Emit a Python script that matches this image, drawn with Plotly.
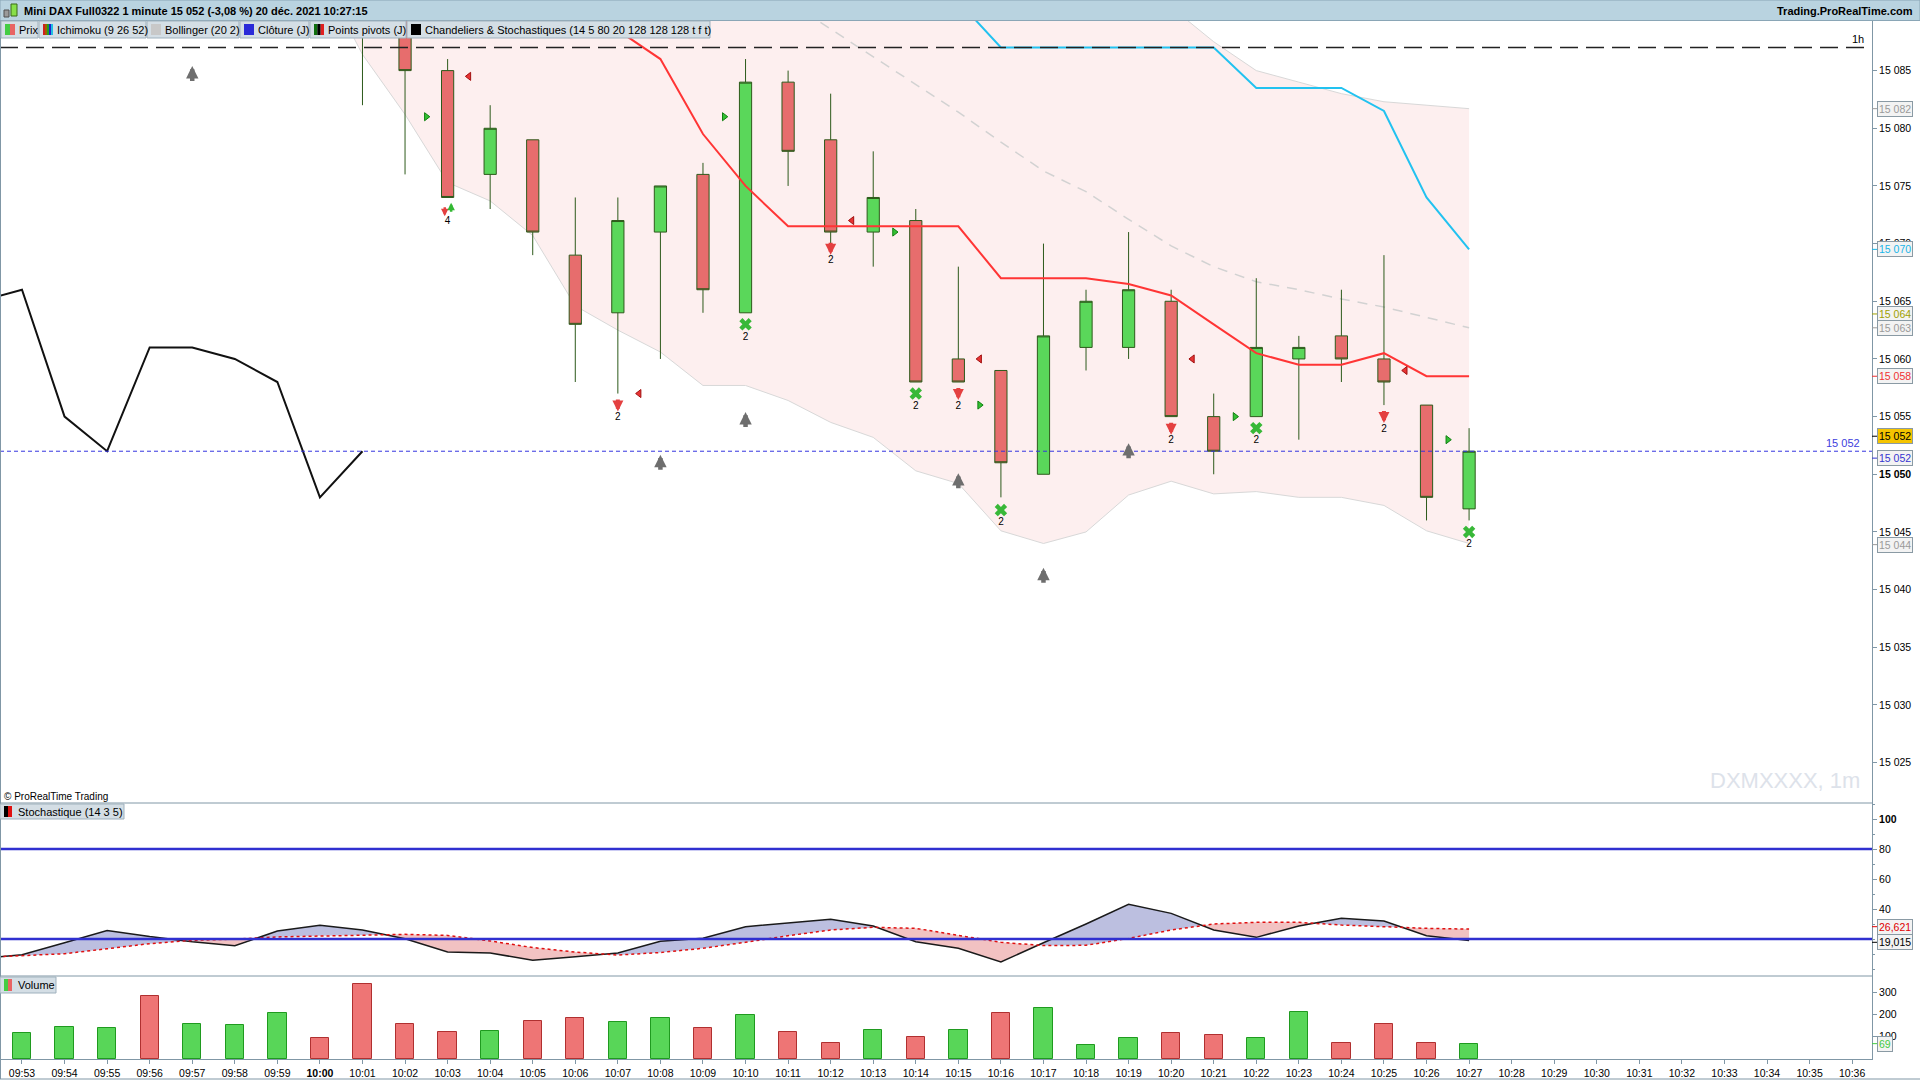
import numpy as np
import pandas as pd
import plotly.graph_objects as go

DAY = "2021-12-20 "
FONT = "Liberation Sans, Arial, sans-serif"
AXIS = "#8097a6"

# ---------------- data ----------------
tick_times = ["09:53", "09:54", "09:55", "09:56", "09:57", "09:58", "09:59",
              "10:00", "10:01", "10:02", "10:03", "10:04", "10:05", "10:06",
              "10:07", "10:08", "10:09", "10:10", "10:11", "10:12", "10:13",
              "10:14", "10:15", "10:16", "10:17", "10:18", "10:19", "10:20",
              "10:21", "10:22", "10:23", "10:24", "10:25", "10:26", "10:27",
              "10:28", "10:29", "10:30", "10:31", "10:32", "10:33", "10:34",
              "10:35", "10:36"]

candle_times = ["10:01", "10:02", "10:03", "10:04", "10:05", "10:06", "10:07",
                "10:08", "10:09", "10:10", "10:11", "10:12", "10:13", "10:14",
                "10:15", "10:16", "10:17", "10:18", "10:19", "10:20", "10:21",
                "10:22", "10:23", "10:24", "10:25", "10:26", "10:27"]
opens = [15094, 15090, 15085, 15076, 15079, 15069, 15064, 15071, 15076, 15064,
         15084, 15079, 15071, 15072, 15060, 15059, 15050, 15061, 15061, 15065,
         15055, 15055, 15060, 15062, 15060, 15056, 15047]
highs = [15097, 15091, 15086, 15082, 15079, 15074, 15074, 15075, 15077, 15086,
         15085, 15083, 15078, 15073, 15068, 15059, 15070, 15066, 15071, 15066,
         15057, 15067, 15062, 15066, 15069, 15056, 15054]
lows = [15082, 15076, 15074, 15073, 15069, 15058, 15057, 15060, 15064, 15064,
        15075, 15070, 15068, 15058, 15058, 15048, 15050, 15059, 15060, 15055,
        15050, 15055, 15053, 15058, 15056, 15046, 15046]
closes = [15090, 15085, 15074, 15080, 15071, 15063, 15072, 15075, 15066, 15084,
          15078, 15071, 15074, 15058, 15058, 15051, 15062, 15065, 15066, 15055,
          15052, 15061, 15061, 15060, 15058, 15048, 15052]

# ichimoku
tenkan_times = ["10:06", "10:07", "10:08", "10:09", "10:10", "10:11", "10:12",
                "10:13", "10:14", "10:15", "10:16", "10:17", "10:18", "10:19",
                "10:20", "10:21", "10:22", "10:23", "10:24", "10:25", "10:26",
                "10:27"]
tenkan = [15091, 15088.5, 15086, 15079.5, 15075, 15071.5, 15071.5, 15071.5,
          15071.5, 15071.5, 15067, 15067, 15067, 15066.5, 15065.5, 15063,
          15060.5, 15059.5, 15059.5, 15060.5, 15058.5, 15058.5]
kijun_times = ["10:15", "10:16", "10:17", "10:18", "10:19", "10:20", "10:21",
               "10:22", "10:23", "10:24", "10:25", "10:26", "10:27"]
kijun = [15091, 15087, 15087, 15087, 15087, 15087, 15087, 15083.5, 15083.5,
         15083.5, 15081.5, 15074, 15069.5]

# bollinger (20 2)
bb_times = ["10:00", "10:01", "10:02", "10:03", "10:04", "10:05", "10:06",
            "10:07", "10:08", "10:09", "10:10", "10:11", "10:12", "10:13",
            "10:14", "10:15", "10:16", "10:17", "10:18", "10:19", "10:20",
            "10:21", "10:22", "10:23", "10:24", "10:25", "10:26", "10:27"]
bb_upper = [15142, 15140, 15138, 15136, 15134, 15132, 15131, 15130, 15129.5,
            15129.5, 15129, 15126, 15123, 15119, 15117, 15114, 15112, 15109,
            15104, 15096, 15090.5, 15087.5, 15085, 15084, 15083, 15082.3,
            15082, 15081.7]
bb_lower = [15093.5, 15086.4, 15081.2, 15075.3, 15073.7, 15070.7, 15064.6,
            15062.5, 15060.6, 15057.7, 15057.7, 15056.4, 15054.5, 15053.2,
            15050.3, 15049.2, 15045.1, 15044.0, 15045.0, 15048.2, 15049.4,
            15048.3, 15048.5, 15048.0, 15048.0, 15047.3, 15045.1, 15044.0]
bb_mid_times = ["10:10", "10:11", "10:12", "10:13", "10:14", "10:15", "10:16",
                "10:17", "10:18", "10:19", "10:20", "10:21", "10:22", "10:23",
                "10:24", "10:25", "10:26", "10:27"]
bb_mid = [15093.5, 15091, 15088.6, 15086.2, 15083.8, 15081.4, 15078.8,
          15076.3, 15074.5, 15072.1, 15069.8, 15068, 15066.7, 15066, 15065.2,
          15064.5, 15063.6, 15062.7]

hour_level = 15087      # "1h" line
daily_close = 15052     # Clôture (J)

# chandeliers & stochastiques signals
up_arrow_times = ["09:57", "10:08", "10:10", "10:15", "10:17", "10:19"]
up_arrow_vals = [15084.7, 15051, 15054.7, 15049.4, 15041.2, 15052]
down_arrow_times = ["10:07", "10:12", "10:15", "10:20", "10:25"]
down_arrow_vals = [15056, 15069.6, 15057, 15054, 15055]
down_arrow_count_vals = [15054.9, 15068.5, 15055.9, 15052.9, 15053.9]
cross_times = ["10:10", "10:14", "10:16", "10:22", "10:27"]
cross_vals = [15063, 15057, 15046.9, 15054, 15045]
cross_count_vals = [15061.9, 15055.9, 15045.8, 15052.9, 15043.9]
pair_times = ["10:02:56", "10:03:05"]
pair_vals = [15072.8, 15073.1]
pair_count = ("10:03", 15071.9, "4")
left_tri_times = ["10:03:30", "10:07:30", "10:12:30", "10:15:30", "10:20:30", "10:25:30"]
left_tri_vals = [15084.5, 15057, 15072, 15060, 15060, 15059]
right_tri_times = ["10:02:30", "10:09:30", "10:13:30", "10:15:30", "10:21:30", "10:26:30"]
right_tri_vals = [15081, 15081, 15071, 15056, 15055, 15053]

# stochastique (14 3 5)
stoch_times = ["09:52", "09:53", "09:54", "09:55", "09:56", "09:57", "09:58",
               "09:59", "10:00", "10:01", "10:02", "10:03", "10:04", "10:05",
               "10:06", "10:07", "10:08", "10:09", "10:10", "10:11", "10:12",
               "10:13", "10:14", "10:15", "10:16", "10:17", "10:18", "10:19",
               "10:20", "10:21", "10:22", "10:23", "10:24", "10:25", "10:26",
               "10:27"]
stoch_k = [7.0, 9.5, 17.5, 25.7, 21.6, 18.2, 15.5, 25.3, 29.1, 26.0, 20.2, 11.3,
           10.6, 5.9, 8.2, 10.7, 18.5, 20.5, 28.2, 30.7, 33.1, 28.7, 18.2, 13.8,
           4.7, 17.5, 30.0, 43.1, 37.1, 26.0, 21.1, 28.7, 33.8, 32.0, 22.2, 19.0]
stoch_d = [7.6, 8.8, 10.2, 13.5, 16.9, 19.1, 19.9, 21.4, 22.2, 22.5, 23.1, 22.4,
           18.7, 14.3, 11.3, 9.3, 11.0, 13.8, 17.8, 22.2, 26.0, 27.8, 27.1, 22.7,
           17.8, 15.6, 15.8, 20.4, 26.0, 30.0, 31.1, 31.1, 29.3, 28.2, 27.1, 26.6]

# volume
vol_times = tick_times[:35]
volume = [118, 145, 141, 284, 159, 154, 208, 96, 338, 159, 123, 127, 172, 186,
          168, 186, 139, 200, 123, 74, 129, 101, 129, 205, 227, 63, 96, 117,
          107, 96, 211, 74, 156, 74, 69]
vol_up = [1, 1, 1, 0, 1, 1, 1, 0, 0, 0, 0, 1, 0, 0, 1, 1, 0, 1, 0, 0, 1, 0, 1,
          0, 1, 1, 1, 0, 0, 1, 1, 0, 0, 0, 1]

# right axis value tags
price_tag_vals = [15081.7, 15069.5, 15063.9, 15062.7, 15058.5, 15053.3, 15051.4, 15043.9]
price_tag_text = ["15 082", "15 070", "15 064", "15 063", "15 058", "15 052", "15 052", "15 044"]
price_tag_color = ["#9a9a9a", "#19b5e8", "#a0a000", "#9a9a9a", "#f03030", "#000000", "#3535d0", "#9a9a9a"]
price_tag_bg = ["#f3f3f3", "#f3f3f3", "#f3f3f3", "#f3f3f3", "#f3f3f3", "#f5c400", "#f3f3f3", "#f3f3f3"]
stoch_tag_vals = [28.2, 17.8]
stoch_tag_text = ["26,621", "19,015"]
stoch_tag_color = ["#e00000", "#000000"]

price_ticks = [15025, 15030, 15035, 15040, 15045, 15050, 15055, 15060, 15065,
               15070, 15075, 15080, 15085]
price_tick_text = ["15 025", "15 030", "15 035", "15 040", "15 045", "<b>15 050</b>",
                   "15 055", "15 060", "15 065", "15 070", "15 075", "15 080", "15 085"]


def ts(lst):
    return [DAY + s for s in lst]


# ---------------- geometry helpers (pixel -> paper) ----------------
PLOT_W, TOP, BOTTOM = 1872, 21, 1059


def px(x):
    return x / PLOT_W


def py(y):
    return (BOTTOM - y) / (BOTTOM - TOP)


fig = go.Figure()

# bollinger band (base subplot, below candles)
fig.add_trace(go.Scatter(x=ts(bb_times), y=bb_upper, mode="lines",
                         line=dict(color="#d8d8d8", width=1), hoverinfo="skip"))
fig.add_trace(go.Scatter(x=ts(bb_times), y=bb_lower, mode="lines",
                         line=dict(color="#d8d8d8", width=1), fill="tonexty",
                         fillcolor="#fdefef", hoverinfo="skip"))
fig.add_trace(go.Scatter(x=ts(bb_mid_times), y=bb_mid, mode="lines",
                         line=dict(color="#d2d2d2", width=1.5, dash="10px,8px"),
                         hoverinfo="skip"))

# candles on overlay axis
fig.add_trace(go.Candlestick(
    x=ts(candle_times), open=opens, high=highs, low=lows, close=closes,
    yaxis="y4", whiskerwidth=0,
    increasing=dict(fillcolor="#5ad75a", line=dict(color="#2d5a1b", width=1)),
    decreasing=dict(fillcolor="#e76d6d", line=dict(color="#2d5a1b", width=1)),
))

fig.add_trace(go.Scatter(x=ts(tenkan_times), y=tenkan, mode="lines", yaxis="y4",
                         line=dict(color="#ff3535", width=2)))
fig.add_trace(go.Scatter(x=ts(kijun_times), y=kijun, mode="lines", yaxis="y4",
                         line=dict(color="#22c2f0", width=2)))

# chikou span: closes shifted 26 periods back
close_s = pd.Series(closes, index=pd.to_datetime(ts(candle_times)))
chikou = close_s.loc[DAY + "10:18":]
chikou.index = chikou.index - pd.Timedelta(minutes=26)
fig.add_trace(go.Scatter(x=chikou.index, y=chikou.values, mode="lines", yaxis="y4",
                         line=dict(color="#111111", width=2)))

# signals
fig.add_trace(go.Scatter(x=ts(left_tri_times), y=left_tri_vals, mode="markers", yaxis="y4",
                         marker=dict(symbol="triangle-left", size=7, color="#e83333",
                                     line=dict(color="#a01010", width=1))))
fig.add_trace(go.Scatter(x=ts(right_tri_times), y=right_tri_vals, mode="markers", yaxis="y4",
                         marker=dict(symbol="triangle-right", size=7, color="#33c033",
                                     line=dict(color="#108010", width=1))))
fig.add_trace(go.Scatter(x=ts(cross_times), y=cross_vals, mode="markers", yaxis="y4",
                         marker=dict(symbol="x", size=11, color="#38b838", line=dict(width=0))))
fig.add_trace(go.Scatter(
    x=ts(down_arrow_times + cross_times + [pair_count[0]]),
    y=down_arrow_count_vals + cross_count_vals + [pair_count[1]],
    mode="text", yaxis="y4",
    text=["2"] * (len(down_arrow_times) + len(cross_times)) + [pair_count[2]],
    textfont=dict(family=FONT, size=10, color="black")))

# stochastic with two-colour fill between %K and %D
st = pd.to_datetime(ts(stoch_times))
xs, ks, ds = [], [], []
for j in range(len(stoch_k)):
    if j > 0:
        a0 = stoch_k[j - 1] - stoch_d[j - 1]
        a1 = stoch_k[j] - stoch_d[j]
        if a0 * a1 < 0:
            f = a0 / (a0 - a1)
            xs.append(st[j - 1] + (st[j] - st[j - 1]) * f)
            v = stoch_k[j - 1] + (stoch_k[j] - stoch_k[j - 1]) * f
            ks.append(v)
            ds.append(v)
    xs.append(st[j])
    ks.append(stoch_k[j])
    ds.append(stoch_d[j])
hi = np.maximum(ks, ds)
lo = np.minimum(ks, ds)
for bound, col in ((hi, "#bcbfe0"), (lo, "#f2c2c2")):
    fig.add_trace(go.Scatter(x=xs, y=ds, mode="lines", yaxis="y2",
                             line=dict(width=0), hoverinfo="skip"))
    fig.add_trace(go.Scatter(x=xs, y=bound, mode="lines", yaxis="y2", fill="tonexty",
                             fillcolor=col, line=dict(width=0), hoverinfo="skip"))
fig.add_trace(go.Scatter(x=st, y=stoch_k, mode="lines", yaxis="y2",
                         line=dict(color="#1a1a1a", width=1.5)))
fig.add_trace(go.Scatter(x=st, y=stoch_d, mode="lines", yaxis="y2",
                         line=dict(color="#e01010", width=1.5, dash="dot")))

# volume
fig.add_trace(go.Bar(
    x=ts(vol_times), y=volume, yaxis="y3", width=25800,
    marker=dict(color=["#58d658" if u else "#ee7575" for u in vol_up],
                line=dict(color=["#1f9a1f" if u else "#b03030" for u in vol_up], width=1)),
))

# ---------------- shapes ----------------
shapes = [
    dict(type="line", xref="paper", yref="y", x0=0, x1=1, y0=hour_level, y1=hour_level,
         line=dict(color="#222222", width=1.5, dash="18px,8px"), layer="above"),
    dict(type="line", xref="paper", yref="y", x0=0, x1=1, y0=daily_close, y1=daily_close,
         line=dict(color="#3535e0", width=1, dash="4px,3px"), layer="above"),
    dict(type="line", xref="paper", yref="y2", x0=0, x1=1, y0=80, y1=80,
         line=dict(color="#3030d0", width=2.5)),
    dict(type="line", xref="paper", yref="y2", x0=0, x1=1, y0=20, y1=20,
         line=dict(color="#3030d0", width=2.5), layer="above"),
]


def rect(x0, y0, x1, y1, fill, line=None):
    shapes.append(dict(type="rect", xref="paper", yref="paper",
                       x0=px(x0), x1=px(x1), y0=py(y1), y1=py(y0),
                       fillcolor=fill, layer="above",
                       line=dict(color=line if line else fill, width=1 if line else 0)))


def hline(y, x0=0, x1=1920, color=AXIS):
    shapes.append(dict(type="line", xref="paper", yref="paper", x0=px(x0), x1=px(x1),
                       y0=py(y), y1=py(y), line=dict(color=color, width=1), layer="above"))


hline(803, 0, 1872)
hline(976, 0, 1872)
hline(1079, 0, 1920)
shapes.append(dict(type="line", xref="paper", yref="paper", x0=px(0.5), x1=px(0.5),
                   y0=py(21), y1=py(1079), line=dict(color=AXIS, width=1)))

# title bar
rect(0, 0, 1920, 20.5, "#b9d3e0", "#8aa6b6")
rect(4, 10, 9, 17, "#9a9a9a", "#505050")
rect(11, 4, 17, 16, "#88e04a", "#3a6a1a")

annotations = []


def label(x, y, text, size=11, color="black", xanchor="left", font=FONT, **kw):
    annotations.append(dict(xref="paper", yref="paper", x=px(x), y=py(y), text=text,
                            showarrow=False, xanchor=xanchor, yanchor="middle",
                            font=dict(family=font, size=size, color=color), **kw))


def arrow(t, v, color, up, width, scale, length):
    # arrow centred on (t, v); tip and tail offsets are in pixels
    sign = 1 if up else -1
    annotations.append(dict(xref="x", yref="y4", x=DAY + t, y=v, text=" ",
                            font=dict(size=1), borderpad=0,
                            showarrow=True, arrowhead=2, arrowsize=scale,
                            arrowwidth=width, arrowcolor=color,
                            ax=0, ay=sign * length, yshift=sign * length / 2,
                            standoff=0, startstandoff=0))


for t, v in zip(up_arrow_times, up_arrow_vals):
    arrow(t, v, "#6e6e6e", True, 4.5, 0.55, 16)
for t, v in zip(down_arrow_times, down_arrow_vals):
    arrow(t, v, "#e44040", False, 4, 0.55, 13)
arrow(pair_times[0], pair_vals[0], "#e44040", False, 2.5, 0.6, 10)
arrow(pair_times[1], pair_vals[1], "#33b833", True, 2.5, 0.6, 10)

label(22, 10.5, "<b>Mini DAX Full0322 1 minute 15 052 (-3,08 %) 20 déc. 2021 10:27:15</b>", 11)
label(1915, 10.5, "<b>Trading.ProRealTime.com</b>", 11, xanchor="right")

# indicator legend bar
legend_items = [
    ("Prix", 1, 38, ["#44cc44", "#e86464"]),
    ("Ichimoku (9 26 52)", 39, 146, ["#d02020", "#a06000", "#20a020", "#2020d0", "#20c0e0"]),
    ("Bollinger (20 2)", 147, 239, ["#c8c8c8"]),
    ("Clôture (J)", 240, 309, ["#2a2ad8"]),
    ("Points pivots (J)", 310, 406, ["#107010", "#000000", "#e02020"]),
    ("Chandeliers & Stochastiques (14 5 80 20 128 128 128 t f t)", 407, 710, ["#000000"]),
]
for name, x0, x1, cols in legend_items:
    rect(x0, 21, x1, 38, "#d4dee5", "#9fb1bd")
    w = 10 / len(cols)
    for n, c in enumerate(cols):
        rect(x0 + 4 + n * w, 24, x0 + 4 + (n + 1) * w, 35, c)
    label(x0 + 16, 29.5, name, 11)

rect(0, 804, 124, 819, "#d4dee5", "#9fb1bd")
rect(4, 806, 8, 817, "#000000")
rect(8, 806, 12, 817, "#e01010")
label(16, 811.5, "Stochastique (14 3 5)", 11)
rect(0, 977, 56, 993, "#d4dee5", "#9fb1bd")
rect(4, 979, 8, 991, "#44cc44")
rect(8, 979, 12, 991, "#e86464")
label(16, 985, "Volume", 11)

label(2, 796, "© ProRealTime Trading", 10)
label(1862, 780, "DXMXXXX, 1m", 22, "#dde2ea", xanchor="right")
label(1866, 39, "1h", 11, xanchor="right")
annotations.append(dict(xref="paper", yref="y", x=px(1862), y=daily_close, text="15 052",
                        showarrow=False, xanchor="right", yanchor="bottom",
                        font=dict(family=FONT, size=11, color="#4040dd")))

# right-axis value tags


def tag(yref, val, text, color, bg="#f3f3f3"):
    annotations.append(dict(xref="paper", yref=yref, x=px(1877), y=val, text=text,
                            showarrow=False, xanchor="left", yanchor="middle",
                            bgcolor=bg, bordercolor="#8a9aa4", borderwidth=1, borderpad=1,
                            font=dict(family=FONT, size=10.5, color=color)))
    shapes.append(dict(type="line", xref="paper", yref=yref, x0=1, x1=px(1877),
                       y0=val, y1=val, line=dict(color=color, width=1)))


for v, tx, c, bg in zip(price_tag_vals, price_tag_text, price_tag_color, price_tag_bg):
    tag("y", v, tx, c, bg)
for v, tx, c in zip(stoch_tag_vals, stoch_tag_text, stoch_tag_color):
    tag("y2", v, tx, c)
tag("y3", volume[-1], str(volume[-1]), "#44cc44")

price_range = [15021.5, 15089.3]
tick_text = ["<b>10:00</b>" if s == "10:00" else s for s in tick_times]
yax = dict(side="right", anchor="x", showgrid=False, zeroline=False, showline=True,
           linecolor=AXIS, ticks="outside", ticklen=4, tickcolor=AXIS,
           tickfont=dict(family=FONT, size=10.5, color="black"), fixedrange=True)

fig.update_layout(
    width=1920, height=1080,
    margin=dict(l=0, r=48, t=21, b=21, pad=0),
    paper_bgcolor="white", plot_bgcolor="white",
    showlegend=False, boxgap=0.59, bargap=0,
    font=dict(family=FONT, size=11, color="black"),
    xaxis=dict(type="date", anchor="y3",
               range=[DAY + "09:52:29", DAY + "10:36:28"],
               tickvals=ts(tick_times), ticktext=tick_text,
               ticks="outside", ticklen=4, tickcolor=AXIS,
               showline=True, linecolor=AXIS, showgrid=False, zeroline=False,
               rangeslider=dict(visible=False),
               tickfont=dict(family=FONT, size=10.5, color="black")),
    yaxis=dict(domain=[py(803), 1], range=price_range,
               tickvals=price_ticks, ticktext=price_tick_text, **yax),
    yaxis4=dict(overlaying="y", range=price_range, visible=False),
    yaxis2=dict(domain=[py(976), py(803)], range=[-4.67, 110.67],
                tickvals=[40, 60, 80, 100], ticktext=["40", "60", "80", "<b>100</b>"],
                minor=dict(dtick=10, ticklen=2, ticks="outside", tickcolor=AXIS), **yax),
    yaxis3=dict(domain=[0, py(976)], range=[0, 373],
                tickvals=[100, 200, 300], ticktext=["100", "200", "300"], **yax),
    shapes=shapes,
    annotations=annotations,
)

fig.write_html("out.html", config={"displayModeBar": False},
               post_script="document.body.style.margin='0px';")
